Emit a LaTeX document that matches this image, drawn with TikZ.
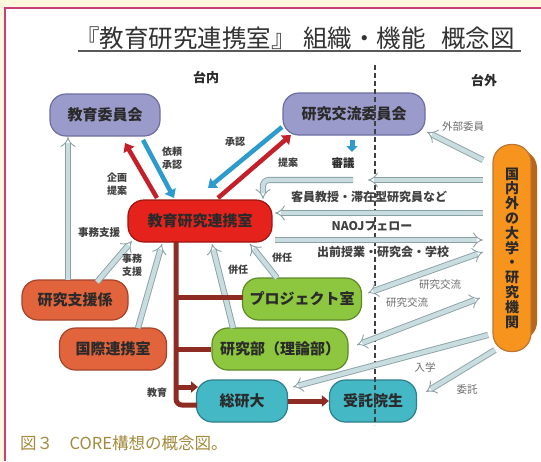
\documentclass[tikz,border=0pt]{standalone}
\usepackage{fontspec}
\setmainfont{Noto Sans CJK JP}
\usetikzlibrary{arrows.meta,calc}
\definecolor{cream}{HTML}{FDF7DE}
\definecolor{framec}{HTML}{C8407A}
\definecolor{lav}{HTML}{9B9BCB}
\definecolor{lavd}{HTML}{6E6EA2}
\definecolor{redf}{HTML}{E5231C}
\definecolor{redd}{HTML}{9E1410}
\definecolor{orr}{HTML}{E2643C}
\definecolor{orrd}{HTML}{A5432A}
\definecolor{grn}{HTML}{8DC63F}
\definecolor{grnd}{HTML}{5E8A2A}
\definecolor{tea}{HTML}{45B8C6}
\definecolor{tead}{HTML}{2C7F8C}
\definecolor{org}{HTML}{F7941E}
\definecolor{orgd}{HTML}{B8661A}
\definecolor{hol}{HTML}{C9DDE0}
\definecolor{hold}{HTML}{8AA2A6}
\definecolor{arrred}{HTML}{C4202A}
\definecolor{arrblue}{HTML}{2E9BCF}
\definecolor{busc}{HTML}{8E2B22}
\definecolor{capc}{HTML}{A38A3C}
\definecolor{txt}{HTML}{2A2A2A}
\definecolor{lbl}{HTML}{404040}
\tikzset{
  pill/.style={rounded corners=16pt, line width=1.2pt, inner sep=0pt,
    font=\fontsize{15}{17}\selectfont\bfseries, text=txt, minimum height=42pt},
  hollow/.style={draw=hold, line width=0.9pt, double=hol, double distance=4.4pt, -{Implies}},
  hollow2/.style={draw=hold, line width=0.9pt, double=hol, double distance=4.4pt, {Implies}-{Implies}},
  redarr/.style={draw=arrred, line width=4.5pt, -{Triangle[length=8pt,width=12pt]}},
  bluearr/.style={draw=arrblue, line width=4.5pt, -{Triangle[length=8pt,width=12pt]}},
  bus/.style={draw=busc, line width=5pt},
  busarr/.style={draw=busc, line width=5pt, -{Triangle[length=7pt,width=11pt]}},
  lb/.style={font=\fontsize{10}{13}\selectfont\bfseries, text=lbl, align=center, inner sep=0pt},
  lg/.style={font=\fontsize{10.5}{12}\selectfont, text=gray!85!black, inner sep=0pt},
  mid/.style={font=\fontsize{12}{13}\selectfont\bfseries, text=lbl, inner sep=0pt},
  ttl/.style={font=\fontsize{24.5}{27}\selectfont, text=black!80, inner sep=0pt, anchor=west},
}
\begin{document}
\begin{tikzpicture}[x=1pt,y=-1pt]
\useasboundingbox (0,0) rectangle (541,461);
% background and frame
\fill[cream] (0,0) rectangle (541,461);
\fill[white] (5,8) rectangle (541,461);
\draw[framec, line width=1.4pt] (5,461) -- (5,8) -- (541,8);

% title
\node[ttl] (t1) at (75,38) {『教育研究連携室』};
\node[ttl] (t2) at (303,38) {組織・機能};
\node[ttl] (t3) at (441,38) {概念図};
\draw[black!65, line width=1.6pt] (78,51) -- (521,51);

\node[font=\fontsize{13}{15}\selectfont\bfseries, text=txt] (nai) at (206,78) {台内};
\node[font=\fontsize{13}{15}\selectfont\bfseries, text=txt] (gai) at (484,80) {台外};

% nodes
\node[pill, fill=lav, draw=lavd, minimum width=110pt] (iin) at (105,115) {教育委員会};
\node[pill, fill=lav, draw=lavd, minimum width=142pt] (koryu) at (354,114) {研究交流委員会};
\node[pill, fill=redf, draw=redd, minimum width=144pt] (renkei) at (200,221) {教育研究連携室};
\node[pill, fill=orr, draw=orrd, minimum width=106pt, minimum height=40pt] (shien) at (75,300) {研究支援係};
\node[pill, fill=orr, draw=orrd, minimum width=107pt] (kokusai) at (113,349) {国際連携室};
\node[pill, fill=grn, draw=grnd, minimum width=119pt] (project) at (302,299) {プロジェクト室};
\node[pill, fill=grn, draw=grnd, minimum width=136pt] (kenkyubu) at (280,349) {研究部（理論部）};
\node[pill, fill=tea, draw=tead, minimum width=91pt] (soken) at (242,401) {総研大};
\node[pill, fill=tea, draw=tead, minimum width=87pt] (jutaku) at (373,401) {受託院生};
\fill[orgd, rounded corners=18pt] (499,150) rectangle (537,340);
\node[pill, fill=org, draw=orgd!90, rounded corners=18pt, minimum width=38pt, minimum height=207pt,
      align=center, font=\fontsize{14}{14.8}\selectfont\bfseries] (org) at (512,248)
      {国\\内\\外\\の\\大\\学\\・\\研\\究\\機\\関};

% dashed separator
\draw[black!75, line width=2pt, dash pattern=on 5pt off 3pt] (375,65) -- (375,425);

% red / blue arrows
\draw[redarr] ($(renkei.center)+(-43,-23)$) -- ($(iin.center)+(20,28)$);
\draw[bluearr] ($(iin.center)+(38,25)$) -- ($(renkei.center)+(-26,-23)$);
\draw[bluearr] ($(koryu.center)+(-72,13)$) -- ($(renkei.center)+(8,-33)$);
\draw[redarr] ($(renkei.center)+(18,-23)$) -- ($(koryu.center)+(-63,21)$);

% shingi
\node[font=\fontsize{11.5}{13}\selectfont\bfseries, text=txt, inner sep=0pt] (shingi) at (343,163) {審議};
\draw[draw=arrblue, line width=5pt, -{Triangle[length=6pt,width=11pt]}] ($(shingi.center)+(9,-23)$) -- ($(shingi.center)+(9,-11)$);

% hollow arrows
\draw[hollow] ($(shien.center)+(-7,-20)$) -- ($(iin.center)+(-37,22)$);
\draw[hollow] ($(shien.center)+(22,-18)$) -- ($(renkei.center)+(-68,20)$);
\draw[hollow] ($(kokusai.center)+(25,-21)$) -- ($(renkei.center)+(-38,23)$);
\draw[hollow] ($(kenkyubu.center)+(-47,-21)$) -- ($(renkei.center)+(12,23)$);
\draw[hollow] ($(project.center)+(-25,-21)$) -- ($(renkei.center)+(50,23)$);
\draw[hollow, rounded corners=6pt] ($(shingi.center)+(10,17)$) -| ($(renkei.center)+(63,-22)$);
\coordinate (c7) at (368,180);
\draw[hollow] ($(org.center)+(-29,-68)$) -- (c7);
\draw[hollow] ($(org.center)+(-29,-35)$) -- ($(renkei.center)+(75,-8)$);
\draw[hollow] ($(renkei.center)+(75,19)$) -- ($(org.center)+(-29,-8)$);
\draw[hollow] ($(org.center)+(-29,-88)$) -- ($(koryu.center)+(73,18)$);
\draw[hollow2] ($(project.center)+(66,-6)$) -- ($(org.center)+(-29,4)$);
\draw[hollow2] ($(kenkyubu.center)+(77,-4)$) -- ($(org.center)+(-32,50)$);
\draw[hollow] ($(org.center)+(-24,87)$) -- ($(soken.center)+(51,-14)$);
\draw[hollow] ($(org.center)+(-17,102)$) -- ($(jutaku.center)+(53,-9)$);

% maroon bus
\draw[bus, rounded corners=6pt] ($(renkei.center)+(-24,21)$) |- ($(soken.center)+(-45,4)$);
\draw[bus] ($(project.center)+(-126,-2)$) -- ($(project.center)+(-59,-2)$);
\draw[bus] ($(kenkyubu.center)+(-104,0)$) -- (kenkyubu.west);
\draw[busarr] ($(soken.center)+(-66,-14)$) -- ($(soken.center)+(-44,-14)$);
\draw[busarr] (soken.east) -- (jutaku.west);

% labels
\node[lb] (l1) at (172,158) {依頼\\承認};
\node[lb] (l2) at (117,184) {企画\\提案};
\node[lb] (l3) at (235,142) {承認};
\node[lb] (l4) at (288,163) {提案};
\node[lg] (l5) at (463,127) {外部委員};
\node[mid] (l6) at (369,197) {客員教授・滞在型研究員など};
\node[mid] (l7) at (372,226) {NAOJフェロー};
\node[mid] (l8) at (383,252) {出前授業・研究会・学校};
\node[lb, font=\fontsize{10.5}{13}\selectfont\bfseries] (l9) at (99,233) {事務支援};
\node[lb] (l10) at (132,265) {事務\\支援};
\node[lb] (l11) at (238,270) {併任};
\node[lb] (l12) at (282,258) {併任};
\node[lg] (l13) at (440,285) {研究交流};
\node[lg] (l14) at (407,303) {研究交流};
\node[lg] (l15) at (425,367) {入学};
\node[lg] (l16) at (467,390) {委託};
\node[lb] (l17) at (157,393) {教育};

% caption
\node[font=\fontsize{16.5}{18}\selectfont, text=capc, inner sep=0pt, anchor=west] (cap) at (20,443) {図３　CORE構想の概念図。};
\end{tikzpicture}
\end{document}
